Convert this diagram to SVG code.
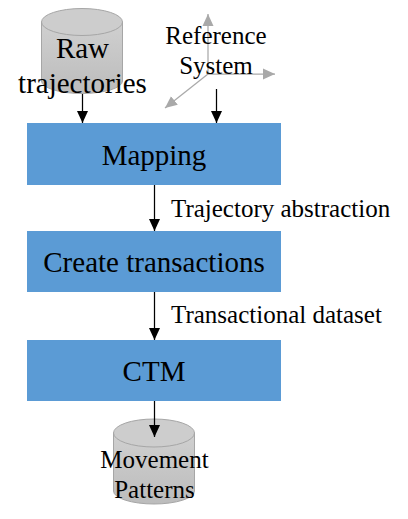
<svg xmlns="http://www.w3.org/2000/svg" width="408" height="519" viewBox="0 0 408 519">
<style>
text{font-family:"Liberation Serif","Times New Roman",serif;fill:#000;text-anchor:middle}
.big{font-size:29px}
.mid{font-size:25px}
.lab{font-size:25px;text-anchor:start}
.box{fill:#5b9bd5}
.cyl{fill:url(#cg);stroke:#a6a6a6;stroke-width:1}
.top{fill:#cdcdcd;stroke:#a6a6a6;stroke-width:1}
.k{stroke:#000;stroke-width:1.250;fill:none;marker-end:url(#ka)}
.g{stroke:#a9a9a9;stroke-width:1.250;fill:none;marker-end:url(#ga)}
</style>
<defs>
<linearGradient id="cg" x1="0" y1="0" x2="0" y2="1"><stop offset="0" stop-color="#d0d0d0"/><stop offset="1" stop-color="#bcbcbc"/></linearGradient>
<marker id="ka" markerUnits="userSpaceOnUse" markerWidth="12" markerHeight="12" refX="12" refY="6" orient="auto"><path d="M0 0.500L12 6L0 11.500Z" fill="#000"/></marker>
<marker id="ga" markerUnits="userSpaceOnUse" markerWidth="13" markerHeight="12" refX="12" refY="6" orient="auto"><path d="M0 0.500L12 6L0 11.500Z" fill="#a9a9a9"/></marker>
</defs>
<g id="raw-trajectories">
<path class="cyl" d="M41.500 22V81A40.500 12.500 0 0 0 122.500 81V22Z"/>
<ellipse class="top" cx="82" cy="22" rx="40.500" ry="13.500"/>
<text class="big" x="82.500" y="58">Raw</text>
<text class="big" x="82.500" y="93">trajectories</text>
</g>
<g id="reference-system">
<path class="g" d="M208 74V14"/>
<path class="g" d="M208 74H275"/>
<path class="g" d="M208 74L165 108"/>
<text class="mid" x="216" y="44">Reference</text>
<text class="mid" x="216" y="74">System</text>
</g>
<g id="mapping"><rect class="box" x="27" y="123" width="254" height="62"/><text class="big" x="154" y="165">Mapping</text></g>
<g id="create-transactions"><rect class="box" x="27" y="231" width="254" height="61"/><text class="big" x="154" y="272">Create transactions</text></g>
<g id="ctm"><rect class="box" x="27" y="340" width="254" height="61"/><text class="big" x="154" y="381">CTM</text></g>
<g id="movement-patterns">
<path class="cyl" d="M113.500 433V491A40.500 13 0 0 0 194.500 491V433Z"/>
<ellipse class="top" cx="154" cy="433" rx="40.500" ry="14"/>
<text class="mid" x="154.500" y="468">Movement</text>
<text class="mid" x="154.500" y="498">Patterns</text>
</g>
<g id="connectors">
<path class="k" d="M82.500 94V123"/>
<path class="k" d="M216.500 89V123"/>
<path class="k" d="M154.500 185V231"/>
<path class="k" d="M154.500 292V340"/>
<path class="k" d="M154.500 401V437"/>
</g>
<g id="labels">
<text class="lab" x="171" y="217">Trajectory abstraction</text>
<text class="lab" x="171" y="323">Transactional dataset</text>
</g>
</svg>
